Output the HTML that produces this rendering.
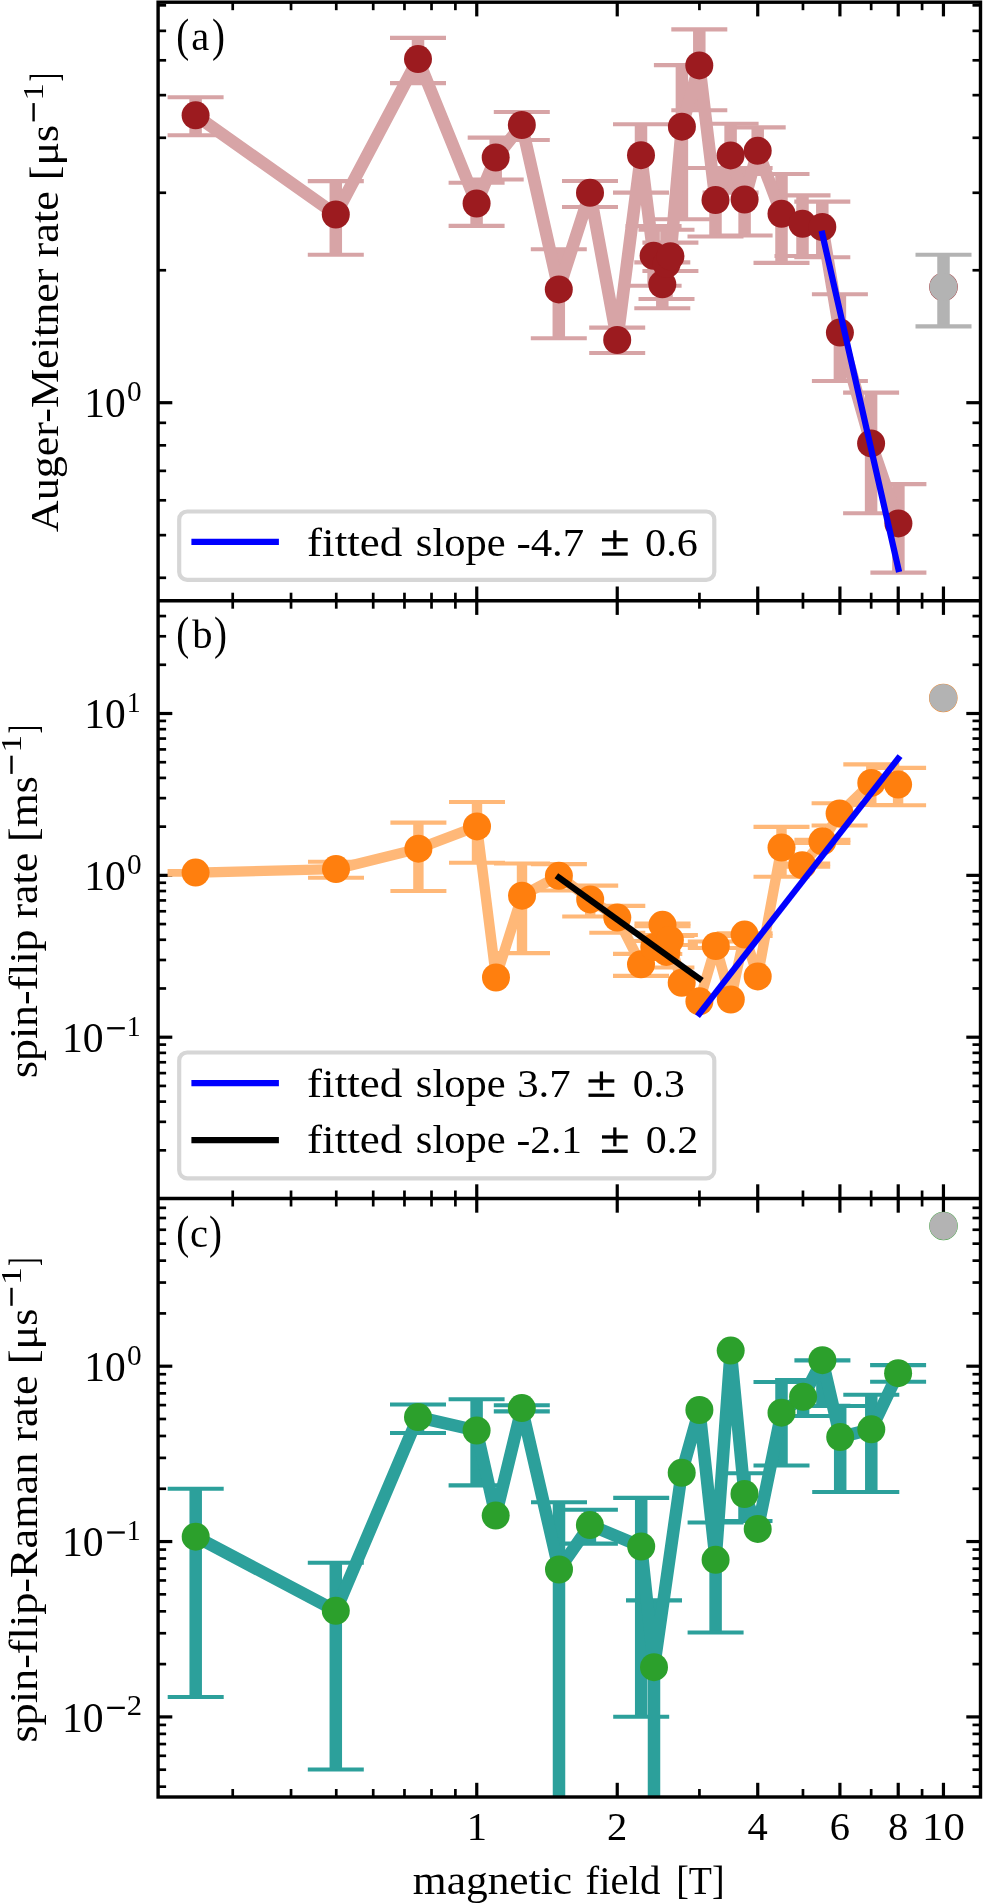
<!DOCTYPE html><html><head><meta charset="utf-8"><style>html,body{margin:0;padding:0;background:#fff;}svg{display:block;will-change:transform;}</style></head><body>
<svg width="983" height="1904" viewBox="0 0 983 1904" font-family="'Liberation Serif', serif">
<rect width="100%" height="100%" fill="#fff"/>
<defs>
<clipPath id="c0"><rect x="158.1" y="2.2" width="822.4" height="598.5"/></clipPath>
<clipPath id="c1"><rect x="158.1" y="600.7" width="822.4" height="597.8"/></clipPath>
<clipPath id="c2"><rect x="158.1" y="1198.5" width="822.4" height="598.5"/></clipPath>
</defs>
<line x1="476.75" y1="600.7" x2="476.75" y2="586.5" stroke="#000" stroke-width="3.2"/>
<line x1="476.75" y1="2.2" x2="476.75" y2="16.4" stroke="#000" stroke-width="3.2"/>
<line x1="617.24" y1="600.7" x2="617.24" y2="586.5" stroke="#000" stroke-width="3.2"/>
<line x1="617.24" y1="2.2" x2="617.24" y2="16.4" stroke="#000" stroke-width="3.2"/>
<line x1="757.73" y1="600.7" x2="757.73" y2="586.5" stroke="#000" stroke-width="3.2"/>
<line x1="757.73" y1="2.2" x2="757.73" y2="16.4" stroke="#000" stroke-width="3.2"/>
<line x1="839.91" y1="600.7" x2="839.91" y2="586.5" stroke="#000" stroke-width="3.2"/>
<line x1="839.91" y1="2.2" x2="839.91" y2="16.4" stroke="#000" stroke-width="3.2"/>
<line x1="898.22" y1="600.7" x2="898.22" y2="586.5" stroke="#000" stroke-width="3.2"/>
<line x1="898.22" y1="2.2" x2="898.22" y2="16.4" stroke="#000" stroke-width="3.2"/>
<line x1="943.45" y1="600.7" x2="943.45" y2="586.5" stroke="#000" stroke-width="3.2"/>
<line x1="943.45" y1="2.2" x2="943.45" y2="16.4" stroke="#000" stroke-width="3.2"/>
<line x1="232.72" y1="600.7" x2="232.72" y2="592.7" stroke="#000" stroke-width="2.7"/>
<line x1="232.72" y1="2.2" x2="232.72" y2="10.2" stroke="#000" stroke-width="2.7"/>
<line x1="291.03" y1="600.7" x2="291.03" y2="592.7" stroke="#000" stroke-width="2.7"/>
<line x1="291.03" y1="2.2" x2="291.03" y2="10.2" stroke="#000" stroke-width="2.7"/>
<line x1="336.26" y1="600.7" x2="336.26" y2="592.7" stroke="#000" stroke-width="2.7"/>
<line x1="336.26" y1="2.2" x2="336.26" y2="10.2" stroke="#000" stroke-width="2.7"/>
<line x1="373.21" y1="600.7" x2="373.21" y2="592.7" stroke="#000" stroke-width="2.7"/>
<line x1="373.21" y1="2.2" x2="373.21" y2="10.2" stroke="#000" stroke-width="2.7"/>
<line x1="404.46" y1="600.7" x2="404.46" y2="592.7" stroke="#000" stroke-width="2.7"/>
<line x1="404.46" y1="2.2" x2="404.46" y2="10.2" stroke="#000" stroke-width="2.7"/>
<line x1="431.52" y1="600.7" x2="431.52" y2="592.7" stroke="#000" stroke-width="2.7"/>
<line x1="431.52" y1="2.2" x2="431.52" y2="10.2" stroke="#000" stroke-width="2.7"/>
<line x1="455.39" y1="600.7" x2="455.39" y2="592.7" stroke="#000" stroke-width="2.7"/>
<line x1="455.39" y1="2.2" x2="455.39" y2="10.2" stroke="#000" stroke-width="2.7"/>
<line x1="699.42" y1="600.7" x2="699.42" y2="592.7" stroke="#000" stroke-width="2.7"/>
<line x1="699.42" y1="2.2" x2="699.42" y2="10.2" stroke="#000" stroke-width="2.7"/>
<line x1="802.96" y1="600.7" x2="802.96" y2="592.7" stroke="#000" stroke-width="2.7"/>
<line x1="802.96" y1="2.2" x2="802.96" y2="10.2" stroke="#000" stroke-width="2.7"/>
<line x1="871.16" y1="600.7" x2="871.16" y2="592.7" stroke="#000" stroke-width="2.7"/>
<line x1="871.16" y1="2.2" x2="871.16" y2="10.2" stroke="#000" stroke-width="2.7"/>
<line x1="922.09" y1="600.7" x2="922.09" y2="592.7" stroke="#000" stroke-width="2.7"/>
<line x1="922.09" y1="2.2" x2="922.09" y2="10.2" stroke="#000" stroke-width="2.7"/>
<line x1="158.1" y1="577.79" x2="166.1" y2="577.79" stroke="#000" stroke-width="2.7"/>
<line x1="980.5" y1="577.79" x2="972.5" y2="577.79" stroke="#000" stroke-width="2.7"/>
<line x1="158.1" y1="535.15" x2="166.1" y2="535.15" stroke="#000" stroke-width="2.7"/>
<line x1="980.5" y1="535.15" x2="972.5" y2="535.15" stroke="#000" stroke-width="2.7"/>
<line x1="158.1" y1="500.31" x2="166.1" y2="500.31" stroke="#000" stroke-width="2.7"/>
<line x1="980.5" y1="500.31" x2="972.5" y2="500.31" stroke="#000" stroke-width="2.7"/>
<line x1="158.1" y1="470.86" x2="166.1" y2="470.86" stroke="#000" stroke-width="2.7"/>
<line x1="980.5" y1="470.86" x2="972.5" y2="470.86" stroke="#000" stroke-width="2.7"/>
<line x1="158.1" y1="445.34" x2="166.1" y2="445.34" stroke="#000" stroke-width="2.7"/>
<line x1="980.5" y1="445.34" x2="972.5" y2="445.34" stroke="#000" stroke-width="2.7"/>
<line x1="158.1" y1="422.83" x2="166.1" y2="422.83" stroke="#000" stroke-width="2.7"/>
<line x1="980.5" y1="422.83" x2="972.5" y2="422.83" stroke="#000" stroke-width="2.7"/>
<line x1="158.1" y1="402.70" x2="172.29999999999998" y2="402.70" stroke="#000" stroke-width="3.2"/>
<line x1="980.5" y1="402.70" x2="966.3" y2="402.70" stroke="#000" stroke-width="3.2"/>
<line x1="158.1" y1="270.25" x2="166.1" y2="270.25" stroke="#000" stroke-width="2.7"/>
<line x1="980.5" y1="270.25" x2="972.5" y2="270.25" stroke="#000" stroke-width="2.7"/>
<line x1="158.1" y1="192.77" x2="166.1" y2="192.77" stroke="#000" stroke-width="2.7"/>
<line x1="980.5" y1="192.77" x2="972.5" y2="192.77" stroke="#000" stroke-width="2.7"/>
<line x1="158.1" y1="137.79" x2="166.1" y2="137.79" stroke="#000" stroke-width="2.7"/>
<line x1="980.5" y1="137.79" x2="972.5" y2="137.79" stroke="#000" stroke-width="2.7"/>
<line x1="158.1" y1="95.15" x2="166.1" y2="95.15" stroke="#000" stroke-width="2.7"/>
<line x1="980.5" y1="95.15" x2="972.5" y2="95.15" stroke="#000" stroke-width="2.7"/>
<line x1="158.1" y1="60.31" x2="166.1" y2="60.31" stroke="#000" stroke-width="2.7"/>
<line x1="980.5" y1="60.31" x2="972.5" y2="60.31" stroke="#000" stroke-width="2.7"/>
<line x1="158.1" y1="30.86" x2="166.1" y2="30.86" stroke="#000" stroke-width="2.7"/>
<line x1="980.5" y1="30.86" x2="972.5" y2="30.86" stroke="#000" stroke-width="2.7"/>
<line x1="158.1" y1="5.34" x2="166.1" y2="5.34" stroke="#000" stroke-width="2.7"/>
<line x1="980.5" y1="5.34" x2="972.5" y2="5.34" stroke="#000" stroke-width="2.7"/>
<line x1="476.75" y1="1198.5" x2="476.75" y2="1184.3" stroke="#000" stroke-width="3.2"/>
<line x1="476.75" y1="600.7" x2="476.75" y2="614.9000000000001" stroke="#000" stroke-width="3.2"/>
<line x1="617.24" y1="1198.5" x2="617.24" y2="1184.3" stroke="#000" stroke-width="3.2"/>
<line x1="617.24" y1="600.7" x2="617.24" y2="614.9000000000001" stroke="#000" stroke-width="3.2"/>
<line x1="757.73" y1="1198.5" x2="757.73" y2="1184.3" stroke="#000" stroke-width="3.2"/>
<line x1="757.73" y1="600.7" x2="757.73" y2="614.9000000000001" stroke="#000" stroke-width="3.2"/>
<line x1="839.91" y1="1198.5" x2="839.91" y2="1184.3" stroke="#000" stroke-width="3.2"/>
<line x1="839.91" y1="600.7" x2="839.91" y2="614.9000000000001" stroke="#000" stroke-width="3.2"/>
<line x1="898.22" y1="1198.5" x2="898.22" y2="1184.3" stroke="#000" stroke-width="3.2"/>
<line x1="898.22" y1="600.7" x2="898.22" y2="614.9000000000001" stroke="#000" stroke-width="3.2"/>
<line x1="943.45" y1="1198.5" x2="943.45" y2="1184.3" stroke="#000" stroke-width="3.2"/>
<line x1="943.45" y1="600.7" x2="943.45" y2="614.9000000000001" stroke="#000" stroke-width="3.2"/>
<line x1="232.72" y1="1198.5" x2="232.72" y2="1190.5" stroke="#000" stroke-width="2.7"/>
<line x1="232.72" y1="600.7" x2="232.72" y2="608.7" stroke="#000" stroke-width="2.7"/>
<line x1="291.03" y1="1198.5" x2="291.03" y2="1190.5" stroke="#000" stroke-width="2.7"/>
<line x1="291.03" y1="600.7" x2="291.03" y2="608.7" stroke="#000" stroke-width="2.7"/>
<line x1="336.26" y1="1198.5" x2="336.26" y2="1190.5" stroke="#000" stroke-width="2.7"/>
<line x1="336.26" y1="600.7" x2="336.26" y2="608.7" stroke="#000" stroke-width="2.7"/>
<line x1="373.21" y1="1198.5" x2="373.21" y2="1190.5" stroke="#000" stroke-width="2.7"/>
<line x1="373.21" y1="600.7" x2="373.21" y2="608.7" stroke="#000" stroke-width="2.7"/>
<line x1="404.46" y1="1198.5" x2="404.46" y2="1190.5" stroke="#000" stroke-width="2.7"/>
<line x1="404.46" y1="600.7" x2="404.46" y2="608.7" stroke="#000" stroke-width="2.7"/>
<line x1="431.52" y1="1198.5" x2="431.52" y2="1190.5" stroke="#000" stroke-width="2.7"/>
<line x1="431.52" y1="600.7" x2="431.52" y2="608.7" stroke="#000" stroke-width="2.7"/>
<line x1="455.39" y1="1198.5" x2="455.39" y2="1190.5" stroke="#000" stroke-width="2.7"/>
<line x1="455.39" y1="600.7" x2="455.39" y2="608.7" stroke="#000" stroke-width="2.7"/>
<line x1="699.42" y1="1198.5" x2="699.42" y2="1190.5" stroke="#000" stroke-width="2.7"/>
<line x1="699.42" y1="600.7" x2="699.42" y2="608.7" stroke="#000" stroke-width="2.7"/>
<line x1="802.96" y1="1198.5" x2="802.96" y2="1190.5" stroke="#000" stroke-width="2.7"/>
<line x1="802.96" y1="600.7" x2="802.96" y2="608.7" stroke="#000" stroke-width="2.7"/>
<line x1="871.16" y1="1198.5" x2="871.16" y2="1190.5" stroke="#000" stroke-width="2.7"/>
<line x1="871.16" y1="600.7" x2="871.16" y2="608.7" stroke="#000" stroke-width="2.7"/>
<line x1="922.09" y1="1198.5" x2="922.09" y2="1190.5" stroke="#000" stroke-width="2.7"/>
<line x1="922.09" y1="600.7" x2="922.09" y2="608.7" stroke="#000" stroke-width="2.7"/>
<line x1="158.1" y1="1150.33" x2="166.1" y2="1150.33" stroke="#000" stroke-width="2.7"/>
<line x1="980.5" y1="1150.33" x2="972.5" y2="1150.33" stroke="#000" stroke-width="2.7"/>
<line x1="158.1" y1="1121.83" x2="166.1" y2="1121.83" stroke="#000" stroke-width="2.7"/>
<line x1="980.5" y1="1121.83" x2="972.5" y2="1121.83" stroke="#000" stroke-width="2.7"/>
<line x1="158.1" y1="1101.61" x2="166.1" y2="1101.61" stroke="#000" stroke-width="2.7"/>
<line x1="980.5" y1="1101.61" x2="972.5" y2="1101.61" stroke="#000" stroke-width="2.7"/>
<line x1="158.1" y1="1085.92" x2="166.1" y2="1085.92" stroke="#000" stroke-width="2.7"/>
<line x1="980.5" y1="1085.92" x2="972.5" y2="1085.92" stroke="#000" stroke-width="2.7"/>
<line x1="158.1" y1="1073.11" x2="166.1" y2="1073.11" stroke="#000" stroke-width="2.7"/>
<line x1="980.5" y1="1073.11" x2="972.5" y2="1073.11" stroke="#000" stroke-width="2.7"/>
<line x1="158.1" y1="1062.27" x2="166.1" y2="1062.27" stroke="#000" stroke-width="2.7"/>
<line x1="980.5" y1="1062.27" x2="972.5" y2="1062.27" stroke="#000" stroke-width="2.7"/>
<line x1="158.1" y1="1052.88" x2="166.1" y2="1052.88" stroke="#000" stroke-width="2.7"/>
<line x1="980.5" y1="1052.88" x2="972.5" y2="1052.88" stroke="#000" stroke-width="2.7"/>
<line x1="158.1" y1="1044.61" x2="166.1" y2="1044.61" stroke="#000" stroke-width="2.7"/>
<line x1="980.5" y1="1044.61" x2="972.5" y2="1044.61" stroke="#000" stroke-width="2.7"/>
<line x1="158.1" y1="1037.20" x2="172.29999999999998" y2="1037.20" stroke="#000" stroke-width="3.2"/>
<line x1="980.5" y1="1037.20" x2="966.3" y2="1037.20" stroke="#000" stroke-width="3.2"/>
<line x1="158.1" y1="988.48" x2="166.1" y2="988.48" stroke="#000" stroke-width="2.7"/>
<line x1="980.5" y1="988.48" x2="972.5" y2="988.48" stroke="#000" stroke-width="2.7"/>
<line x1="158.1" y1="959.98" x2="166.1" y2="959.98" stroke="#000" stroke-width="2.7"/>
<line x1="980.5" y1="959.98" x2="972.5" y2="959.98" stroke="#000" stroke-width="2.7"/>
<line x1="158.1" y1="939.76" x2="166.1" y2="939.76" stroke="#000" stroke-width="2.7"/>
<line x1="980.5" y1="939.76" x2="972.5" y2="939.76" stroke="#000" stroke-width="2.7"/>
<line x1="158.1" y1="924.07" x2="166.1" y2="924.07" stroke="#000" stroke-width="2.7"/>
<line x1="980.5" y1="924.07" x2="972.5" y2="924.07" stroke="#000" stroke-width="2.7"/>
<line x1="158.1" y1="911.26" x2="166.1" y2="911.26" stroke="#000" stroke-width="2.7"/>
<line x1="980.5" y1="911.26" x2="972.5" y2="911.26" stroke="#000" stroke-width="2.7"/>
<line x1="158.1" y1="900.42" x2="166.1" y2="900.42" stroke="#000" stroke-width="2.7"/>
<line x1="980.5" y1="900.42" x2="972.5" y2="900.42" stroke="#000" stroke-width="2.7"/>
<line x1="158.1" y1="891.03" x2="166.1" y2="891.03" stroke="#000" stroke-width="2.7"/>
<line x1="980.5" y1="891.03" x2="972.5" y2="891.03" stroke="#000" stroke-width="2.7"/>
<line x1="158.1" y1="882.76" x2="166.1" y2="882.76" stroke="#000" stroke-width="2.7"/>
<line x1="980.5" y1="882.76" x2="972.5" y2="882.76" stroke="#000" stroke-width="2.7"/>
<line x1="158.1" y1="875.35" x2="172.29999999999998" y2="875.35" stroke="#000" stroke-width="3.2"/>
<line x1="980.5" y1="875.35" x2="966.3" y2="875.35" stroke="#000" stroke-width="3.2"/>
<line x1="158.1" y1="826.63" x2="166.1" y2="826.63" stroke="#000" stroke-width="2.7"/>
<line x1="980.5" y1="826.63" x2="972.5" y2="826.63" stroke="#000" stroke-width="2.7"/>
<line x1="158.1" y1="798.13" x2="166.1" y2="798.13" stroke="#000" stroke-width="2.7"/>
<line x1="980.5" y1="798.13" x2="972.5" y2="798.13" stroke="#000" stroke-width="2.7"/>
<line x1="158.1" y1="777.91" x2="166.1" y2="777.91" stroke="#000" stroke-width="2.7"/>
<line x1="980.5" y1="777.91" x2="972.5" y2="777.91" stroke="#000" stroke-width="2.7"/>
<line x1="158.1" y1="762.22" x2="166.1" y2="762.22" stroke="#000" stroke-width="2.7"/>
<line x1="980.5" y1="762.22" x2="972.5" y2="762.22" stroke="#000" stroke-width="2.7"/>
<line x1="158.1" y1="749.41" x2="166.1" y2="749.41" stroke="#000" stroke-width="2.7"/>
<line x1="980.5" y1="749.41" x2="972.5" y2="749.41" stroke="#000" stroke-width="2.7"/>
<line x1="158.1" y1="738.57" x2="166.1" y2="738.57" stroke="#000" stroke-width="2.7"/>
<line x1="980.5" y1="738.57" x2="972.5" y2="738.57" stroke="#000" stroke-width="2.7"/>
<line x1="158.1" y1="729.18" x2="166.1" y2="729.18" stroke="#000" stroke-width="2.7"/>
<line x1="980.5" y1="729.18" x2="972.5" y2="729.18" stroke="#000" stroke-width="2.7"/>
<line x1="158.1" y1="720.91" x2="166.1" y2="720.91" stroke="#000" stroke-width="2.7"/>
<line x1="980.5" y1="720.91" x2="972.5" y2="720.91" stroke="#000" stroke-width="2.7"/>
<line x1="158.1" y1="713.50" x2="172.29999999999998" y2="713.50" stroke="#000" stroke-width="3.2"/>
<line x1="980.5" y1="713.50" x2="966.3" y2="713.50" stroke="#000" stroke-width="3.2"/>
<line x1="158.1" y1="664.78" x2="166.1" y2="664.78" stroke="#000" stroke-width="2.7"/>
<line x1="980.5" y1="664.78" x2="972.5" y2="664.78" stroke="#000" stroke-width="2.7"/>
<line x1="158.1" y1="636.28" x2="166.1" y2="636.28" stroke="#000" stroke-width="2.7"/>
<line x1="980.5" y1="636.28" x2="972.5" y2="636.28" stroke="#000" stroke-width="2.7"/>
<line x1="158.1" y1="616.06" x2="166.1" y2="616.06" stroke="#000" stroke-width="2.7"/>
<line x1="980.5" y1="616.06" x2="972.5" y2="616.06" stroke="#000" stroke-width="2.7"/>
<line x1="476.75" y1="1797.0" x2="476.75" y2="1782.8" stroke="#000" stroke-width="3.2"/>
<line x1="476.75" y1="1198.5" x2="476.75" y2="1212.7" stroke="#000" stroke-width="3.2"/>
<line x1="617.24" y1="1797.0" x2="617.24" y2="1782.8" stroke="#000" stroke-width="3.2"/>
<line x1="617.24" y1="1198.5" x2="617.24" y2="1212.7" stroke="#000" stroke-width="3.2"/>
<line x1="757.73" y1="1797.0" x2="757.73" y2="1782.8" stroke="#000" stroke-width="3.2"/>
<line x1="757.73" y1="1198.5" x2="757.73" y2="1212.7" stroke="#000" stroke-width="3.2"/>
<line x1="839.91" y1="1797.0" x2="839.91" y2="1782.8" stroke="#000" stroke-width="3.2"/>
<line x1="839.91" y1="1198.5" x2="839.91" y2="1212.7" stroke="#000" stroke-width="3.2"/>
<line x1="898.22" y1="1797.0" x2="898.22" y2="1782.8" stroke="#000" stroke-width="3.2"/>
<line x1="898.22" y1="1198.5" x2="898.22" y2="1212.7" stroke="#000" stroke-width="3.2"/>
<line x1="943.45" y1="1797.0" x2="943.45" y2="1782.8" stroke="#000" stroke-width="3.2"/>
<line x1="943.45" y1="1198.5" x2="943.45" y2="1212.7" stroke="#000" stroke-width="3.2"/>
<line x1="232.72" y1="1797.0" x2="232.72" y2="1789.0" stroke="#000" stroke-width="2.7"/>
<line x1="232.72" y1="1198.5" x2="232.72" y2="1206.5" stroke="#000" stroke-width="2.7"/>
<line x1="291.03" y1="1797.0" x2="291.03" y2="1789.0" stroke="#000" stroke-width="2.7"/>
<line x1="291.03" y1="1198.5" x2="291.03" y2="1206.5" stroke="#000" stroke-width="2.7"/>
<line x1="336.26" y1="1797.0" x2="336.26" y2="1789.0" stroke="#000" stroke-width="2.7"/>
<line x1="336.26" y1="1198.5" x2="336.26" y2="1206.5" stroke="#000" stroke-width="2.7"/>
<line x1="373.21" y1="1797.0" x2="373.21" y2="1789.0" stroke="#000" stroke-width="2.7"/>
<line x1="373.21" y1="1198.5" x2="373.21" y2="1206.5" stroke="#000" stroke-width="2.7"/>
<line x1="404.46" y1="1797.0" x2="404.46" y2="1789.0" stroke="#000" stroke-width="2.7"/>
<line x1="404.46" y1="1198.5" x2="404.46" y2="1206.5" stroke="#000" stroke-width="2.7"/>
<line x1="431.52" y1="1797.0" x2="431.52" y2="1789.0" stroke="#000" stroke-width="2.7"/>
<line x1="431.52" y1="1198.5" x2="431.52" y2="1206.5" stroke="#000" stroke-width="2.7"/>
<line x1="455.39" y1="1797.0" x2="455.39" y2="1789.0" stroke="#000" stroke-width="2.7"/>
<line x1="455.39" y1="1198.5" x2="455.39" y2="1206.5" stroke="#000" stroke-width="2.7"/>
<line x1="699.42" y1="1797.0" x2="699.42" y2="1789.0" stroke="#000" stroke-width="2.7"/>
<line x1="699.42" y1="1198.5" x2="699.42" y2="1206.5" stroke="#000" stroke-width="2.7"/>
<line x1="802.96" y1="1797.0" x2="802.96" y2="1789.0" stroke="#000" stroke-width="2.7"/>
<line x1="802.96" y1="1198.5" x2="802.96" y2="1206.5" stroke="#000" stroke-width="2.7"/>
<line x1="871.16" y1="1797.0" x2="871.16" y2="1789.0" stroke="#000" stroke-width="2.7"/>
<line x1="871.16" y1="1198.5" x2="871.16" y2="1206.5" stroke="#000" stroke-width="2.7"/>
<line x1="922.09" y1="1797.0" x2="922.09" y2="1789.0" stroke="#000" stroke-width="2.7"/>
<line x1="922.09" y1="1198.5" x2="922.09" y2="1206.5" stroke="#000" stroke-width="2.7"/>
<line x1="158.1" y1="1786.68" x2="166.1" y2="1786.68" stroke="#000" stroke-width="2.7"/>
<line x1="980.5" y1="1786.68" x2="972.5" y2="1786.68" stroke="#000" stroke-width="2.7"/>
<line x1="158.1" y1="1769.69" x2="166.1" y2="1769.69" stroke="#000" stroke-width="2.7"/>
<line x1="980.5" y1="1769.69" x2="972.5" y2="1769.69" stroke="#000" stroke-width="2.7"/>
<line x1="158.1" y1="1755.80" x2="166.1" y2="1755.80" stroke="#000" stroke-width="2.7"/>
<line x1="980.5" y1="1755.80" x2="972.5" y2="1755.80" stroke="#000" stroke-width="2.7"/>
<line x1="158.1" y1="1744.06" x2="166.1" y2="1744.06" stroke="#000" stroke-width="2.7"/>
<line x1="980.5" y1="1744.06" x2="972.5" y2="1744.06" stroke="#000" stroke-width="2.7"/>
<line x1="158.1" y1="1733.89" x2="166.1" y2="1733.89" stroke="#000" stroke-width="2.7"/>
<line x1="980.5" y1="1733.89" x2="972.5" y2="1733.89" stroke="#000" stroke-width="2.7"/>
<line x1="158.1" y1="1724.92" x2="166.1" y2="1724.92" stroke="#000" stroke-width="2.7"/>
<line x1="980.5" y1="1724.92" x2="972.5" y2="1724.92" stroke="#000" stroke-width="2.7"/>
<line x1="158.1" y1="1716.90" x2="172.29999999999998" y2="1716.90" stroke="#000" stroke-width="3.2"/>
<line x1="980.5" y1="1716.90" x2="966.3" y2="1716.90" stroke="#000" stroke-width="3.2"/>
<line x1="158.1" y1="1664.11" x2="166.1" y2="1664.11" stroke="#000" stroke-width="2.7"/>
<line x1="980.5" y1="1664.11" x2="972.5" y2="1664.11" stroke="#000" stroke-width="2.7"/>
<line x1="158.1" y1="1633.24" x2="166.1" y2="1633.24" stroke="#000" stroke-width="2.7"/>
<line x1="980.5" y1="1633.24" x2="972.5" y2="1633.24" stroke="#000" stroke-width="2.7"/>
<line x1="158.1" y1="1611.33" x2="166.1" y2="1611.33" stroke="#000" stroke-width="2.7"/>
<line x1="980.5" y1="1611.33" x2="972.5" y2="1611.33" stroke="#000" stroke-width="2.7"/>
<line x1="158.1" y1="1594.34" x2="166.1" y2="1594.34" stroke="#000" stroke-width="2.7"/>
<line x1="980.5" y1="1594.34" x2="972.5" y2="1594.34" stroke="#000" stroke-width="2.7"/>
<line x1="158.1" y1="1580.45" x2="166.1" y2="1580.45" stroke="#000" stroke-width="2.7"/>
<line x1="980.5" y1="1580.45" x2="972.5" y2="1580.45" stroke="#000" stroke-width="2.7"/>
<line x1="158.1" y1="1568.71" x2="166.1" y2="1568.71" stroke="#000" stroke-width="2.7"/>
<line x1="980.5" y1="1568.71" x2="972.5" y2="1568.71" stroke="#000" stroke-width="2.7"/>
<line x1="158.1" y1="1558.54" x2="166.1" y2="1558.54" stroke="#000" stroke-width="2.7"/>
<line x1="980.5" y1="1558.54" x2="972.5" y2="1558.54" stroke="#000" stroke-width="2.7"/>
<line x1="158.1" y1="1549.57" x2="166.1" y2="1549.57" stroke="#000" stroke-width="2.7"/>
<line x1="980.5" y1="1549.57" x2="972.5" y2="1549.57" stroke="#000" stroke-width="2.7"/>
<line x1="158.1" y1="1541.55" x2="172.29999999999998" y2="1541.55" stroke="#000" stroke-width="3.2"/>
<line x1="980.5" y1="1541.55" x2="966.3" y2="1541.55" stroke="#000" stroke-width="3.2"/>
<line x1="158.1" y1="1488.76" x2="166.1" y2="1488.76" stroke="#000" stroke-width="2.7"/>
<line x1="980.5" y1="1488.76" x2="972.5" y2="1488.76" stroke="#000" stroke-width="2.7"/>
<line x1="158.1" y1="1457.89" x2="166.1" y2="1457.89" stroke="#000" stroke-width="2.7"/>
<line x1="980.5" y1="1457.89" x2="972.5" y2="1457.89" stroke="#000" stroke-width="2.7"/>
<line x1="158.1" y1="1435.98" x2="166.1" y2="1435.98" stroke="#000" stroke-width="2.7"/>
<line x1="980.5" y1="1435.98" x2="972.5" y2="1435.98" stroke="#000" stroke-width="2.7"/>
<line x1="158.1" y1="1418.99" x2="166.1" y2="1418.99" stroke="#000" stroke-width="2.7"/>
<line x1="980.5" y1="1418.99" x2="972.5" y2="1418.99" stroke="#000" stroke-width="2.7"/>
<line x1="158.1" y1="1405.10" x2="166.1" y2="1405.10" stroke="#000" stroke-width="2.7"/>
<line x1="980.5" y1="1405.10" x2="972.5" y2="1405.10" stroke="#000" stroke-width="2.7"/>
<line x1="158.1" y1="1393.36" x2="166.1" y2="1393.36" stroke="#000" stroke-width="2.7"/>
<line x1="980.5" y1="1393.36" x2="972.5" y2="1393.36" stroke="#000" stroke-width="2.7"/>
<line x1="158.1" y1="1383.19" x2="166.1" y2="1383.19" stroke="#000" stroke-width="2.7"/>
<line x1="980.5" y1="1383.19" x2="972.5" y2="1383.19" stroke="#000" stroke-width="2.7"/>
<line x1="158.1" y1="1374.22" x2="166.1" y2="1374.22" stroke="#000" stroke-width="2.7"/>
<line x1="980.5" y1="1374.22" x2="972.5" y2="1374.22" stroke="#000" stroke-width="2.7"/>
<line x1="158.1" y1="1366.20" x2="172.29999999999998" y2="1366.20" stroke="#000" stroke-width="3.2"/>
<line x1="980.5" y1="1366.20" x2="966.3" y2="1366.20" stroke="#000" stroke-width="3.2"/>
<line x1="158.1" y1="1313.41" x2="166.1" y2="1313.41" stroke="#000" stroke-width="2.7"/>
<line x1="980.5" y1="1313.41" x2="972.5" y2="1313.41" stroke="#000" stroke-width="2.7"/>
<line x1="158.1" y1="1282.54" x2="166.1" y2="1282.54" stroke="#000" stroke-width="2.7"/>
<line x1="980.5" y1="1282.54" x2="972.5" y2="1282.54" stroke="#000" stroke-width="2.7"/>
<line x1="158.1" y1="1260.63" x2="166.1" y2="1260.63" stroke="#000" stroke-width="2.7"/>
<line x1="980.5" y1="1260.63" x2="972.5" y2="1260.63" stroke="#000" stroke-width="2.7"/>
<line x1="158.1" y1="1243.64" x2="166.1" y2="1243.64" stroke="#000" stroke-width="2.7"/>
<line x1="980.5" y1="1243.64" x2="972.5" y2="1243.64" stroke="#000" stroke-width="2.7"/>
<line x1="158.1" y1="1229.75" x2="166.1" y2="1229.75" stroke="#000" stroke-width="2.7"/>
<line x1="980.5" y1="1229.75" x2="972.5" y2="1229.75" stroke="#000" stroke-width="2.7"/>
<line x1="158.1" y1="1218.01" x2="166.1" y2="1218.01" stroke="#000" stroke-width="2.7"/>
<line x1="980.5" y1="1218.01" x2="972.5" y2="1218.01" stroke="#000" stroke-width="2.7"/>
<line x1="158.1" y1="1207.84" x2="166.1" y2="1207.84" stroke="#000" stroke-width="2.7"/>
<line x1="980.5" y1="1207.84" x2="972.5" y2="1207.84" stroke="#000" stroke-width="2.7"/>
<g clip-path="url(#c0)">
<line x1="195.6" y1="97.3" x2="195.6" y2="135.2" stroke="#d7a4a6" stroke-width="12.5"/>
<line x1="335.8" y1="181.1" x2="335.8" y2="254.8" stroke="#d7a4a6" stroke-width="12.5"/>
<line x1="418.0" y1="37.9" x2="418.0" y2="83.1" stroke="#d7a4a6" stroke-width="12.5"/>
<line x1="476.6" y1="182.8" x2="476.6" y2="225.9" stroke="#d7a4a6" stroke-width="12.5"/>
<line x1="495.7" y1="137.6" x2="495.7" y2="179.5" stroke="#d7a4a6" stroke-width="12.5"/>
<line x1="521.8" y1="112.0" x2="521.8" y2="140.0" stroke="#d7a4a6" stroke-width="12.5"/>
<line x1="558.8" y1="249.2" x2="558.8" y2="338.2" stroke="#d7a4a6" stroke-width="12.5"/>
<line x1="590.0" y1="181.0" x2="590.0" y2="207.0" stroke="#d7a4a6" stroke-width="12.5"/>
<line x1="617.2" y1="327.6" x2="617.2" y2="353.0" stroke="#d7a4a6" stroke-width="12.5"/>
<line x1="641.0" y1="124.3" x2="641.0" y2="192.6" stroke="#d7a4a6" stroke-width="12.5"/>
<line x1="653.6" y1="226.0" x2="653.6" y2="285.8" stroke="#d7a4a6" stroke-width="12.5"/>
<line x1="662.3" y1="262.4" x2="662.3" y2="308.2" stroke="#d7a4a6" stroke-width="12.5"/>
<line x1="666.5" y1="229.8" x2="666.5" y2="299.0" stroke="#d7a4a6" stroke-width="12.5"/>
<line x1="670.4" y1="242.6" x2="670.4" y2="271.0" stroke="#d7a4a6" stroke-width="12.5"/>
<line x1="681.9" y1="65.1" x2="681.9" y2="219.2" stroke="#d7a4a6" stroke-width="12.5"/>
<line x1="699.3" y1="29.4" x2="699.3" y2="110.2" stroke="#d7a4a6" stroke-width="12.5"/>
<line x1="715.5" y1="168.0" x2="715.5" y2="236.5" stroke="#d7a4a6" stroke-width="12.5"/>
<line x1="730.6" y1="123.7" x2="730.6" y2="192.6" stroke="#d7a4a6" stroke-width="12.5"/>
<line x1="744.6" y1="168.0" x2="744.6" y2="235.5" stroke="#d7a4a6" stroke-width="12.5"/>
<line x1="757.7" y1="127.4" x2="757.7" y2="174.0" stroke="#d7a4a6" stroke-width="12.5"/>
<line x1="781.5" y1="174.0" x2="781.5" y2="262.9" stroke="#d7a4a6" stroke-width="12.5"/>
<line x1="802.5" y1="195.4" x2="802.5" y2="256.0" stroke="#d7a4a6" stroke-width="12.5"/>
<line x1="822.3" y1="201.6" x2="822.3" y2="257.2" stroke="#d7a4a6" stroke-width="12.5"/>
<line x1="839.9" y1="294.3" x2="839.9" y2="381.0" stroke="#d7a4a6" stroke-width="12.5"/>
<line x1="871.1" y1="392.6" x2="871.1" y2="513.2" stroke="#d7a4a6" stroke-width="12.5"/>
<line x1="898.4" y1="484.1" x2="898.4" y2="572.6" stroke="#d7a4a6" stroke-width="12.5"/>
<line x1="167.6" y1="97.3" x2="223.6" y2="97.3" stroke="#d7a4a6" stroke-width="4.1"/>
<line x1="167.6" y1="135.2" x2="223.6" y2="135.2" stroke="#d7a4a6" stroke-width="4.1"/>
<line x1="307.8" y1="181.1" x2="363.8" y2="181.1" stroke="#d7a4a6" stroke-width="4.1"/>
<line x1="307.8" y1="254.8" x2="363.8" y2="254.8" stroke="#d7a4a6" stroke-width="4.1"/>
<line x1="390.0" y1="37.9" x2="446.0" y2="37.9" stroke="#d7a4a6" stroke-width="4.1"/>
<line x1="390.0" y1="83.1" x2="446.0" y2="83.1" stroke="#d7a4a6" stroke-width="4.1"/>
<line x1="448.6" y1="182.8" x2="504.6" y2="182.8" stroke="#d7a4a6" stroke-width="4.1"/>
<line x1="448.6" y1="225.9" x2="504.6" y2="225.9" stroke="#d7a4a6" stroke-width="4.1"/>
<line x1="467.7" y1="137.6" x2="523.7" y2="137.6" stroke="#d7a4a6" stroke-width="4.1"/>
<line x1="467.7" y1="179.5" x2="523.7" y2="179.5" stroke="#d7a4a6" stroke-width="4.1"/>
<line x1="493.8" y1="112.0" x2="549.8" y2="112.0" stroke="#d7a4a6" stroke-width="4.1"/>
<line x1="493.8" y1="140.0" x2="549.8" y2="140.0" stroke="#d7a4a6" stroke-width="4.1"/>
<line x1="530.8" y1="249.2" x2="586.8" y2="249.2" stroke="#d7a4a6" stroke-width="4.1"/>
<line x1="530.8" y1="338.2" x2="586.8" y2="338.2" stroke="#d7a4a6" stroke-width="4.1"/>
<line x1="562.0" y1="181.0" x2="618.0" y2="181.0" stroke="#d7a4a6" stroke-width="4.1"/>
<line x1="562.0" y1="207.0" x2="618.0" y2="207.0" stroke="#d7a4a6" stroke-width="4.1"/>
<line x1="589.2" y1="327.6" x2="645.2" y2="327.6" stroke="#d7a4a6" stroke-width="4.1"/>
<line x1="589.2" y1="353.0" x2="645.2" y2="353.0" stroke="#d7a4a6" stroke-width="4.1"/>
<line x1="613.0" y1="124.3" x2="669.0" y2="124.3" stroke="#d7a4a6" stroke-width="4.1"/>
<line x1="613.0" y1="192.6" x2="669.0" y2="192.6" stroke="#d7a4a6" stroke-width="4.1"/>
<line x1="625.6" y1="226.0" x2="681.6" y2="226.0" stroke="#d7a4a6" stroke-width="4.1"/>
<line x1="625.6" y1="285.8" x2="681.6" y2="285.8" stroke="#d7a4a6" stroke-width="4.1"/>
<line x1="634.3" y1="262.4" x2="690.3" y2="262.4" stroke="#d7a4a6" stroke-width="4.1"/>
<line x1="634.3" y1="308.2" x2="690.3" y2="308.2" stroke="#d7a4a6" stroke-width="4.1"/>
<line x1="638.5" y1="229.8" x2="694.5" y2="229.8" stroke="#d7a4a6" stroke-width="4.1"/>
<line x1="638.5" y1="299.0" x2="694.5" y2="299.0" stroke="#d7a4a6" stroke-width="4.1"/>
<line x1="642.4" y1="242.6" x2="698.4" y2="242.6" stroke="#d7a4a6" stroke-width="4.1"/>
<line x1="642.4" y1="271.0" x2="698.4" y2="271.0" stroke="#d7a4a6" stroke-width="4.1"/>
<line x1="653.9" y1="65.1" x2="709.9" y2="65.1" stroke="#d7a4a6" stroke-width="4.1"/>
<line x1="653.9" y1="219.2" x2="709.9" y2="219.2" stroke="#d7a4a6" stroke-width="4.1"/>
<line x1="671.3" y1="29.4" x2="727.3" y2="29.4" stroke="#d7a4a6" stroke-width="4.1"/>
<line x1="671.3" y1="110.2" x2="727.3" y2="110.2" stroke="#d7a4a6" stroke-width="4.1"/>
<line x1="687.5" y1="168.0" x2="743.5" y2="168.0" stroke="#d7a4a6" stroke-width="4.1"/>
<line x1="687.5" y1="236.5" x2="743.5" y2="236.5" stroke="#d7a4a6" stroke-width="4.1"/>
<line x1="702.6" y1="123.7" x2="758.6" y2="123.7" stroke="#d7a4a6" stroke-width="4.1"/>
<line x1="702.6" y1="192.6" x2="758.6" y2="192.6" stroke="#d7a4a6" stroke-width="4.1"/>
<line x1="716.6" y1="168.0" x2="772.6" y2="168.0" stroke="#d7a4a6" stroke-width="4.1"/>
<line x1="716.6" y1="235.5" x2="772.6" y2="235.5" stroke="#d7a4a6" stroke-width="4.1"/>
<line x1="729.7" y1="127.4" x2="785.7" y2="127.4" stroke="#d7a4a6" stroke-width="4.1"/>
<line x1="729.7" y1="174.0" x2="785.7" y2="174.0" stroke="#d7a4a6" stroke-width="4.1"/>
<line x1="753.5" y1="174.0" x2="809.5" y2="174.0" stroke="#d7a4a6" stroke-width="4.1"/>
<line x1="753.5" y1="262.9" x2="809.5" y2="262.9" stroke="#d7a4a6" stroke-width="4.1"/>
<line x1="774.5" y1="195.4" x2="830.5" y2="195.4" stroke="#d7a4a6" stroke-width="4.1"/>
<line x1="774.5" y1="256.0" x2="830.5" y2="256.0" stroke="#d7a4a6" stroke-width="4.1"/>
<line x1="794.3" y1="201.6" x2="850.3" y2="201.6" stroke="#d7a4a6" stroke-width="4.1"/>
<line x1="794.3" y1="257.2" x2="850.3" y2="257.2" stroke="#d7a4a6" stroke-width="4.1"/>
<line x1="811.9" y1="294.3" x2="867.9" y2="294.3" stroke="#d7a4a6" stroke-width="4.1"/>
<line x1="811.9" y1="381.0" x2="867.9" y2="381.0" stroke="#d7a4a6" stroke-width="4.1"/>
<line x1="843.1" y1="392.6" x2="899.1" y2="392.6" stroke="#d7a4a6" stroke-width="4.1"/>
<line x1="843.1" y1="513.2" x2="899.1" y2="513.2" stroke="#d7a4a6" stroke-width="4.1"/>
<line x1="870.4" y1="484.1" x2="926.4" y2="484.1" stroke="#d7a4a6" stroke-width="4.1"/>
<line x1="870.4" y1="572.6" x2="926.4" y2="572.6" stroke="#d7a4a6" stroke-width="4.1"/>
<path d="M195.6,115.3 L335.8,214.5 L418.0,59.1 L476.6,203.5 L495.7,157.5 L521.8,125.0 L558.8,289.4 L590.0,192.8 L617.2,340.0 L641.0,155.2 L653.6,255.8 L662.3,284.3 L666.5,264.0 L670.4,256.3 L681.9,126.7 L699.3,65.4 L715.5,200.1 L730.6,155.4 L744.6,199.5 L757.7,150.8 L781.5,213.8 L802.5,223.8 L822.3,227.0 L839.9,332.6 L871.1,443.4 L898.4,523.4" fill="none" stroke="#d7a4a6" stroke-width="12.5" stroke-linejoin="round" stroke-linecap="square"/>
<circle cx="195.6" cy="115.3" r="14.0" fill="#9c1b1f"/>
<circle cx="335.8" cy="214.5" r="14.0" fill="#9c1b1f"/>
<circle cx="418.0" cy="59.1" r="14.0" fill="#9c1b1f"/>
<circle cx="476.6" cy="203.5" r="14.0" fill="#9c1b1f"/>
<circle cx="495.7" cy="157.5" r="14.0" fill="#9c1b1f"/>
<circle cx="521.8" cy="125.0" r="14.0" fill="#9c1b1f"/>
<circle cx="558.8" cy="289.4" r="14.0" fill="#9c1b1f"/>
<circle cx="590.0" cy="192.8" r="14.0" fill="#9c1b1f"/>
<circle cx="617.2" cy="340.0" r="14.0" fill="#9c1b1f"/>
<circle cx="641.0" cy="155.2" r="14.0" fill="#9c1b1f"/>
<circle cx="653.6" cy="255.8" r="14.0" fill="#9c1b1f"/>
<circle cx="662.3" cy="284.3" r="14.0" fill="#9c1b1f"/>
<circle cx="666.5" cy="264.0" r="14.0" fill="#9c1b1f"/>
<circle cx="670.4" cy="256.3" r="14.0" fill="#9c1b1f"/>
<circle cx="681.9" cy="126.7" r="14.0" fill="#9c1b1f"/>
<circle cx="699.3" cy="65.4" r="14.0" fill="#9c1b1f"/>
<circle cx="715.5" cy="200.1" r="14.0" fill="#9c1b1f"/>
<circle cx="730.6" cy="155.4" r="14.0" fill="#9c1b1f"/>
<circle cx="744.6" cy="199.5" r="14.0" fill="#9c1b1f"/>
<circle cx="757.7" cy="150.8" r="14.0" fill="#9c1b1f"/>
<circle cx="781.5" cy="213.8" r="14.0" fill="#9c1b1f"/>
<circle cx="802.5" cy="223.8" r="14.0" fill="#9c1b1f"/>
<circle cx="822.3" cy="227.0" r="14.0" fill="#9c1b1f"/>
<circle cx="839.9" cy="332.6" r="14.0" fill="#9c1b1f"/>
<circle cx="871.1" cy="443.4" r="14.0" fill="#9c1b1f"/>
<circle cx="898.4" cy="523.4" r="14.0" fill="#9c1b1f"/>
</g>
<g clip-path="url(#c0)">
<circle cx="943.5" cy="286.9" r="14.25" fill="#9c1b1f"/>
<line x1="943.5" y1="254.7" x2="943.5" y2="326.4" stroke="#b3b3b3" stroke-width="12.5"/>
<line x1="915.5" y1="254.7" x2="971.5" y2="254.7" stroke="#b3b3b3" stroke-width="4.1"/>
<line x1="915.5" y1="326.4" x2="971.5" y2="326.4" stroke="#b3b3b3" stroke-width="4.1"/>
<circle cx="943.5" cy="286.9" r="14.0" fill="#b3b3b3"/>
</g>
<g clip-path="url(#c0)"><line x1="822.3" y1="233.8" x2="898.4" y2="569.0" stroke="#0000ff" stroke-width="6.25" stroke-linecap="square"/></g>
<g clip-path="url(#c1)">
<line x1="195.6" y1="871.0" x2="195.6" y2="874.6" stroke="#ffb878" stroke-width="10.4"/>
<line x1="336.0" y1="861.8" x2="336.0" y2="877.7" stroke="#ffb878" stroke-width="10.4"/>
<line x1="418.4" y1="822.6" x2="418.4" y2="891.0" stroke="#ffb878" stroke-width="10.4"/>
<line x1="477.0" y1="802.0" x2="477.0" y2="862.8" stroke="#ffb878" stroke-width="10.4"/>
<line x1="522.0" y1="863.5" x2="522.0" y2="953.1" stroke="#ffb878" stroke-width="10.4"/>
<line x1="558.9" y1="864.1" x2="558.9" y2="890.5" stroke="#ffb878" stroke-width="10.4"/>
<line x1="590.2" y1="885.6" x2="590.2" y2="916.5" stroke="#ffb878" stroke-width="10.4"/>
<line x1="617.3" y1="905.9" x2="617.3" y2="932.8" stroke="#ffb878" stroke-width="10.4"/>
<line x1="641.0" y1="953.9" x2="641.0" y2="975.9" stroke="#ffb878" stroke-width="10.4"/>
<line x1="654.3" y1="941.0" x2="654.3" y2="954.0" stroke="#ffb878" stroke-width="10.4"/>
<line x1="662.5" y1="923.5" x2="662.5" y2="926.3" stroke="#ffb878" stroke-width="10.4"/>
<line x1="666.4" y1="936.0" x2="666.4" y2="967.5" stroke="#ffb878" stroke-width="10.4"/>
<line x1="669.9" y1="935.0" x2="669.9" y2="945.0" stroke="#ffb878" stroke-width="10.4"/>
<line x1="715.8" y1="941.5" x2="715.8" y2="948.0" stroke="#ffb878" stroke-width="10.4"/>
<line x1="744.6" y1="933.2" x2="744.6" y2="936.0" stroke="#ffb878" stroke-width="10.4"/>
<line x1="781.5" y1="826.9" x2="781.5" y2="876.7" stroke="#ffb878" stroke-width="10.4"/>
<line x1="802.2" y1="863.6" x2="802.2" y2="866.8" stroke="#ffb878" stroke-width="10.4"/>
<line x1="822.4" y1="839.7" x2="822.4" y2="842.9" stroke="#ffb878" stroke-width="10.4"/>
<line x1="839.6" y1="803.3" x2="839.6" y2="825.5" stroke="#ffb878" stroke-width="10.4"/>
<line x1="871.3" y1="764.4" x2="871.3" y2="805.0" stroke="#ffb878" stroke-width="10.4"/>
<line x1="898.1" y1="767.9" x2="898.1" y2="805.3" stroke="#ffb878" stroke-width="10.4"/>
<line x1="167.6" y1="871.0" x2="223.6" y2="871.0" stroke="#ffb878" stroke-width="4.1"/>
<line x1="167.6" y1="874.6" x2="223.6" y2="874.6" stroke="#ffb878" stroke-width="4.1"/>
<line x1="308.0" y1="861.8" x2="364.0" y2="861.8" stroke="#ffb878" stroke-width="4.1"/>
<line x1="308.0" y1="877.7" x2="364.0" y2="877.7" stroke="#ffb878" stroke-width="4.1"/>
<line x1="390.4" y1="822.6" x2="446.4" y2="822.6" stroke="#ffb878" stroke-width="4.1"/>
<line x1="390.4" y1="891.0" x2="446.4" y2="891.0" stroke="#ffb878" stroke-width="4.1"/>
<line x1="449.0" y1="802.0" x2="505.0" y2="802.0" stroke="#ffb878" stroke-width="4.1"/>
<line x1="449.0" y1="862.8" x2="505.0" y2="862.8" stroke="#ffb878" stroke-width="4.1"/>
<line x1="494.0" y1="863.5" x2="550.0" y2="863.5" stroke="#ffb878" stroke-width="4.1"/>
<line x1="494.0" y1="953.1" x2="550.0" y2="953.1" stroke="#ffb878" stroke-width="4.1"/>
<line x1="530.9" y1="864.1" x2="586.9" y2="864.1" stroke="#ffb878" stroke-width="4.1"/>
<line x1="530.9" y1="890.5" x2="586.9" y2="890.5" stroke="#ffb878" stroke-width="4.1"/>
<line x1="562.2" y1="885.6" x2="618.2" y2="885.6" stroke="#ffb878" stroke-width="4.1"/>
<line x1="562.2" y1="916.5" x2="618.2" y2="916.5" stroke="#ffb878" stroke-width="4.1"/>
<line x1="589.3" y1="905.9" x2="645.3" y2="905.9" stroke="#ffb878" stroke-width="4.1"/>
<line x1="589.3" y1="932.8" x2="645.3" y2="932.8" stroke="#ffb878" stroke-width="4.1"/>
<line x1="613.0" y1="953.9" x2="669.0" y2="953.9" stroke="#ffb878" stroke-width="4.1"/>
<line x1="613.0" y1="975.9" x2="669.0" y2="975.9" stroke="#ffb878" stroke-width="4.1"/>
<line x1="626.3" y1="941.0" x2="682.3" y2="941.0" stroke="#ffb878" stroke-width="4.1"/>
<line x1="626.3" y1="954.0" x2="682.3" y2="954.0" stroke="#ffb878" stroke-width="4.1"/>
<line x1="634.5" y1="923.5" x2="690.5" y2="923.5" stroke="#ffb878" stroke-width="4.1"/>
<line x1="634.5" y1="926.3" x2="690.5" y2="926.3" stroke="#ffb878" stroke-width="4.1"/>
<line x1="638.4" y1="936.0" x2="694.4" y2="936.0" stroke="#ffb878" stroke-width="4.1"/>
<line x1="638.4" y1="967.5" x2="694.4" y2="967.5" stroke="#ffb878" stroke-width="4.1"/>
<line x1="641.9" y1="935.0" x2="697.9" y2="935.0" stroke="#ffb878" stroke-width="4.1"/>
<line x1="641.9" y1="945.0" x2="697.9" y2="945.0" stroke="#ffb878" stroke-width="4.1"/>
<line x1="687.8" y1="941.5" x2="743.8" y2="941.5" stroke="#ffb878" stroke-width="4.1"/>
<line x1="687.8" y1="948.0" x2="743.8" y2="948.0" stroke="#ffb878" stroke-width="4.1"/>
<line x1="716.6" y1="933.2" x2="772.6" y2="933.2" stroke="#ffb878" stroke-width="4.1"/>
<line x1="716.6" y1="936.0" x2="772.6" y2="936.0" stroke="#ffb878" stroke-width="4.1"/>
<line x1="753.5" y1="826.9" x2="809.5" y2="826.9" stroke="#ffb878" stroke-width="4.1"/>
<line x1="753.5" y1="876.7" x2="809.5" y2="876.7" stroke="#ffb878" stroke-width="4.1"/>
<line x1="774.2" y1="863.6" x2="830.2" y2="863.6" stroke="#ffb878" stroke-width="4.1"/>
<line x1="774.2" y1="866.8" x2="830.2" y2="866.8" stroke="#ffb878" stroke-width="4.1"/>
<line x1="794.4" y1="839.7" x2="850.4" y2="839.7" stroke="#ffb878" stroke-width="4.1"/>
<line x1="794.4" y1="842.9" x2="850.4" y2="842.9" stroke="#ffb878" stroke-width="4.1"/>
<line x1="811.6" y1="803.3" x2="867.6" y2="803.3" stroke="#ffb878" stroke-width="4.1"/>
<line x1="811.6" y1="825.5" x2="867.6" y2="825.5" stroke="#ffb878" stroke-width="4.1"/>
<line x1="843.3" y1="764.4" x2="899.3" y2="764.4" stroke="#ffb878" stroke-width="4.1"/>
<line x1="843.3" y1="805.0" x2="899.3" y2="805.0" stroke="#ffb878" stroke-width="4.1"/>
<line x1="870.1" y1="767.9" x2="926.1" y2="767.9" stroke="#ffb878" stroke-width="4.1"/>
<line x1="870.1" y1="805.3" x2="926.1" y2="805.3" stroke="#ffb878" stroke-width="4.1"/>
<path d="M195.6,872.6 L336.0,869.1 L418.4,848.7 L477.0,826.4 L496.0,977.5 L522.0,895.7 L558.9,875.8 L590.2,899.4 L617.3,917.6 L641.0,964.3 L654.3,947.0 L662.5,924.8 L666.4,951.9 L669.9,940.0 L681.7,982.8 L699.4,1001.3 L715.8,946.0 L730.8,999.5 L744.6,934.6 L757.7,976.4 L781.5,847.6 L802.2,865.2 L822.4,841.3 L839.6,813.4 L871.3,782.9 L898.1,784.6" fill="none" stroke="#ffb878" stroke-width="10.4" stroke-linejoin="round" stroke-linecap="square"/>
<circle cx="195.6" cy="872.6" r="14.0" fill="#ff7f0e"/>
<circle cx="336.0" cy="869.1" r="14.0" fill="#ff7f0e"/>
<circle cx="418.4" cy="848.7" r="14.0" fill="#ff7f0e"/>
<circle cx="477.0" cy="826.4" r="14.0" fill="#ff7f0e"/>
<circle cx="496.0" cy="977.5" r="14.0" fill="#ff7f0e"/>
<circle cx="522.0" cy="895.7" r="14.0" fill="#ff7f0e"/>
<circle cx="558.9" cy="875.8" r="14.0" fill="#ff7f0e"/>
<circle cx="590.2" cy="899.4" r="14.0" fill="#ff7f0e"/>
<circle cx="617.3" cy="917.6" r="14.0" fill="#ff7f0e"/>
<circle cx="641.0" cy="964.3" r="14.0" fill="#ff7f0e"/>
<circle cx="654.3" cy="947.0" r="14.0" fill="#ff7f0e"/>
<circle cx="662.5" cy="924.8" r="14.0" fill="#ff7f0e"/>
<circle cx="666.4" cy="951.9" r="14.0" fill="#ff7f0e"/>
<circle cx="669.9" cy="940.0" r="14.0" fill="#ff7f0e"/>
<circle cx="681.7" cy="982.8" r="14.0" fill="#ff7f0e"/>
<circle cx="699.4" cy="1001.3" r="14.0" fill="#ff7f0e"/>
<circle cx="715.8" cy="946.0" r="14.0" fill="#ff7f0e"/>
<circle cx="730.8" cy="999.5" r="14.0" fill="#ff7f0e"/>
<circle cx="744.6" cy="934.6" r="14.0" fill="#ff7f0e"/>
<circle cx="757.7" cy="976.4" r="14.0" fill="#ff7f0e"/>
<circle cx="781.5" cy="847.6" r="14.0" fill="#ff7f0e"/>
<circle cx="802.2" cy="865.2" r="14.0" fill="#ff7f0e"/>
<circle cx="822.4" cy="841.3" r="14.0" fill="#ff7f0e"/>
<circle cx="839.6" cy="813.4" r="14.0" fill="#ff7f0e"/>
<circle cx="871.3" cy="782.9" r="14.0" fill="#ff7f0e"/>
<circle cx="898.1" cy="784.6" r="14.0" fill="#ff7f0e"/>
</g>
<g clip-path="url(#c1)">
<circle cx="943.3" cy="697.9" r="14.25" fill="#ff7f0e"/>
<circle cx="943.3" cy="697.9" r="14.0" fill="#b3b3b3"/>
</g>
<g clip-path="url(#c1)"><line x1="558.9" y1="877.6" x2="699.4" y2="978.6" stroke="#000" stroke-width="6.25" stroke-linecap="square"/>
<line x1="699.4" y1="1013.6" x2="898.1" y2="758.6" stroke="#0000ff" stroke-width="6.25" stroke-linecap="square"/></g>
<g clip-path="url(#c2)">
<line x1="195.7" y1="1488.7" x2="195.7" y2="1697.0" stroke="#2ca09b" stroke-width="12.5"/>
<line x1="335.8" y1="1562.8" x2="335.8" y2="1769.5" stroke="#2ca09b" stroke-width="12.5"/>
<line x1="418.0" y1="1404.5" x2="418.0" y2="1433.0" stroke="#2ca09b" stroke-width="12.5"/>
<line x1="476.6" y1="1399.2" x2="476.6" y2="1485.4" stroke="#2ca09b" stroke-width="12.5"/>
<line x1="521.8" y1="1405.3" x2="521.8" y2="1411.4" stroke="#2ca09b" stroke-width="12.5"/>
<line x1="559.0" y1="1502.3" x2="559.0" y2="1830.0" stroke="#2ca09b" stroke-width="12.5"/>
<line x1="589.9" y1="1509.8" x2="589.9" y2="1543.6" stroke="#2ca09b" stroke-width="12.5"/>
<line x1="641.2" y1="1497.9" x2="641.2" y2="1716.8" stroke="#2ca09b" stroke-width="12.5"/>
<line x1="654.0" y1="1600.4" x2="654.0" y2="1830.0" stroke="#2ca09b" stroke-width="12.5"/>
<line x1="715.6" y1="1522.5" x2="715.6" y2="1632.5" stroke="#2ca09b" stroke-width="12.5"/>
<line x1="744.5" y1="1473.3" x2="744.5" y2="1521.0" stroke="#2ca09b" stroke-width="12.5"/>
<line x1="781.5" y1="1382.0" x2="781.5" y2="1465.5" stroke="#2ca09b" stroke-width="12.5"/>
<line x1="803.1" y1="1380.0" x2="803.1" y2="1416.0" stroke="#2ca09b" stroke-width="12.5"/>
<line x1="822.4" y1="1360.4" x2="822.4" y2="1405.7" stroke="#2ca09b" stroke-width="12.5"/>
<line x1="840.2" y1="1406.0" x2="840.2" y2="1492.0" stroke="#2ca09b" stroke-width="12.5"/>
<line x1="871.3" y1="1394.8" x2="871.3" y2="1492.0" stroke="#2ca09b" stroke-width="12.5"/>
<line x1="898.1" y1="1365.1" x2="898.1" y2="1381.8" stroke="#2ca09b" stroke-width="12.5"/>
<line x1="167.7" y1="1488.7" x2="223.7" y2="1488.7" stroke="#2ca09b" stroke-width="4.1"/>
<line x1="167.7" y1="1697.0" x2="223.7" y2="1697.0" stroke="#2ca09b" stroke-width="4.1"/>
<line x1="307.8" y1="1562.8" x2="363.8" y2="1562.8" stroke="#2ca09b" stroke-width="4.1"/>
<line x1="307.8" y1="1769.5" x2="363.8" y2="1769.5" stroke="#2ca09b" stroke-width="4.1"/>
<line x1="390.0" y1="1404.5" x2="446.0" y2="1404.5" stroke="#2ca09b" stroke-width="4.1"/>
<line x1="390.0" y1="1433.0" x2="446.0" y2="1433.0" stroke="#2ca09b" stroke-width="4.1"/>
<line x1="448.6" y1="1399.2" x2="504.6" y2="1399.2" stroke="#2ca09b" stroke-width="4.1"/>
<line x1="448.6" y1="1485.4" x2="504.6" y2="1485.4" stroke="#2ca09b" stroke-width="4.1"/>
<line x1="493.8" y1="1405.3" x2="549.8" y2="1405.3" stroke="#2ca09b" stroke-width="4.1"/>
<line x1="493.8" y1="1411.4" x2="549.8" y2="1411.4" stroke="#2ca09b" stroke-width="4.1"/>
<line x1="531.0" y1="1502.3" x2="587.0" y2="1502.3" stroke="#2ca09b" stroke-width="4.1"/>
<line x1="531.0" y1="1830.0" x2="587.0" y2="1830.0" stroke="#2ca09b" stroke-width="4.1"/>
<line x1="561.9" y1="1509.8" x2="617.9" y2="1509.8" stroke="#2ca09b" stroke-width="4.1"/>
<line x1="561.9" y1="1543.6" x2="617.9" y2="1543.6" stroke="#2ca09b" stroke-width="4.1"/>
<line x1="613.2" y1="1497.9" x2="669.2" y2="1497.9" stroke="#2ca09b" stroke-width="4.1"/>
<line x1="613.2" y1="1716.8" x2="669.2" y2="1716.8" stroke="#2ca09b" stroke-width="4.1"/>
<line x1="626.0" y1="1600.4" x2="682.0" y2="1600.4" stroke="#2ca09b" stroke-width="4.1"/>
<line x1="626.0" y1="1830.0" x2="682.0" y2="1830.0" stroke="#2ca09b" stroke-width="4.1"/>
<line x1="687.6" y1="1522.5" x2="743.6" y2="1522.5" stroke="#2ca09b" stroke-width="4.1"/>
<line x1="687.6" y1="1632.5" x2="743.6" y2="1632.5" stroke="#2ca09b" stroke-width="4.1"/>
<line x1="716.5" y1="1473.3" x2="772.5" y2="1473.3" stroke="#2ca09b" stroke-width="4.1"/>
<line x1="716.5" y1="1521.0" x2="772.5" y2="1521.0" stroke="#2ca09b" stroke-width="4.1"/>
<line x1="753.5" y1="1382.0" x2="809.5" y2="1382.0" stroke="#2ca09b" stroke-width="4.1"/>
<line x1="753.5" y1="1465.5" x2="809.5" y2="1465.5" stroke="#2ca09b" stroke-width="4.1"/>
<line x1="775.1" y1="1380.0" x2="831.1" y2="1380.0" stroke="#2ca09b" stroke-width="4.1"/>
<line x1="775.1" y1="1416.0" x2="831.1" y2="1416.0" stroke="#2ca09b" stroke-width="4.1"/>
<line x1="794.4" y1="1360.4" x2="850.4" y2="1360.4" stroke="#2ca09b" stroke-width="4.1"/>
<line x1="794.4" y1="1405.7" x2="850.4" y2="1405.7" stroke="#2ca09b" stroke-width="4.1"/>
<line x1="812.2" y1="1406.0" x2="868.2" y2="1406.0" stroke="#2ca09b" stroke-width="4.1"/>
<line x1="812.2" y1="1492.0" x2="868.2" y2="1492.0" stroke="#2ca09b" stroke-width="4.1"/>
<line x1="843.3" y1="1394.8" x2="899.3" y2="1394.8" stroke="#2ca09b" stroke-width="4.1"/>
<line x1="843.3" y1="1492.0" x2="899.3" y2="1492.0" stroke="#2ca09b" stroke-width="4.1"/>
<line x1="870.1" y1="1365.1" x2="926.1" y2="1365.1" stroke="#2ca09b" stroke-width="4.1"/>
<line x1="870.1" y1="1381.8" x2="926.1" y2="1381.8" stroke="#2ca09b" stroke-width="4.1"/>
<path d="M195.7,1536.7 L335.8,1610.8 L418.0,1417.1 L476.6,1430.5 L495.7,1515.6 L521.8,1408.1 L559.0,1569.5 L589.9,1525.1 L641.2,1546.5 L654.0,1667.2 L681.7,1472.8 L699.4,1410.0 L715.6,1559.8 L730.7,1350.6 L744.5,1494.0 L757.7,1528.9 L781.5,1412.7 L803.1,1396.8 L822.4,1360.2 L840.2,1437.1 L871.3,1429.3 L898.1,1373.2" fill="none" stroke="#2ca09b" stroke-width="12.5" stroke-linejoin="round" stroke-linecap="square"/>
<circle cx="195.7" cy="1536.7" r="14.0" fill="#2ca02c"/>
<circle cx="335.8" cy="1610.8" r="14.0" fill="#2ca02c"/>
<circle cx="418.0" cy="1417.1" r="14.0" fill="#2ca02c"/>
<circle cx="476.6" cy="1430.5" r="14.0" fill="#2ca02c"/>
<circle cx="495.7" cy="1515.6" r="14.0" fill="#2ca02c"/>
<circle cx="521.8" cy="1408.1" r="14.0" fill="#2ca02c"/>
<circle cx="559.0" cy="1569.5" r="14.0" fill="#2ca02c"/>
<circle cx="589.9" cy="1525.1" r="14.0" fill="#2ca02c"/>
<circle cx="641.2" cy="1546.5" r="14.0" fill="#2ca02c"/>
<circle cx="654.0" cy="1667.2" r="14.0" fill="#2ca02c"/>
<circle cx="681.7" cy="1472.8" r="14.0" fill="#2ca02c"/>
<circle cx="699.4" cy="1410.0" r="14.0" fill="#2ca02c"/>
<circle cx="715.6" cy="1559.8" r="14.0" fill="#2ca02c"/>
<circle cx="730.7" cy="1350.6" r="14.0" fill="#2ca02c"/>
<circle cx="744.5" cy="1494.0" r="14.0" fill="#2ca02c"/>
<circle cx="757.7" cy="1528.9" r="14.0" fill="#2ca02c"/>
<circle cx="781.5" cy="1412.7" r="14.0" fill="#2ca02c"/>
<circle cx="803.1" cy="1396.8" r="14.0" fill="#2ca02c"/>
<circle cx="822.4" cy="1360.2" r="14.0" fill="#2ca02c"/>
<circle cx="840.2" cy="1437.1" r="14.0" fill="#2ca02c"/>
<circle cx="871.3" cy="1429.3" r="14.0" fill="#2ca02c"/>
<circle cx="898.1" cy="1373.2" r="14.0" fill="#2ca02c"/>
</g>
<g clip-path="url(#c2)">
<circle cx="943.5" cy="1225.9" r="14.25" fill="#2ca02c"/>
<circle cx="943.5" cy="1225.9" r="14.0" fill="#b3b3b3"/>
</g>
<rect x="158.1" y="2.2" width="822.4" height="1794.8" fill="none" stroke="#000" stroke-width="3.4"/>
<line x1="158.1" y1="600.7" x2="980.5" y2="600.7" stroke="#000" stroke-width="3.4"/>
<line x1="158.1" y1="1198.5" x2="980.5" y2="1198.5" stroke="#000" stroke-width="3.4"/>
<text x="176.29" y="51.199999999999996" font-size="45.5" textLength="12.97" lengthAdjust="spacingAndGlyphs" >(</text>
<text x="211.95" y="51.199999999999996" font-size="45.5" textLength="12.97" lengthAdjust="spacingAndGlyphs" >)</text>
<text x="191.18" y="50.3" font-size="40.5">a</text>
<text x="176.29" y="649.1999999999999" font-size="45.5" textLength="12.97" lengthAdjust="spacingAndGlyphs" >(</text>
<text x="213.95" y="649.1999999999999" font-size="45.5" textLength="12.97" lengthAdjust="spacingAndGlyphs" >)</text>
<text x="192.25" y="648.3" font-size="40.5">b</text>
<text x="176.29" y="1247.8000000000002" font-size="45.5" textLength="12.97" lengthAdjust="spacingAndGlyphs" >(</text>
<text x="209.05" y="1247.8000000000002" font-size="45.5" textLength="12.97" lengthAdjust="spacingAndGlyphs" >)</text>
<text x="190.01" y="1246.9" font-size="40.5">c</text>
<text x="84.26" y="417.4" font-size="42.0" textLength="41.42" lengthAdjust="spacingAndGlyphs" >10</text>
<text x="126.89" y="401.15" font-size="29.5" textLength="14.63" lengthAdjust="spacingAndGlyphs" >0</text>
<text x="84.26" y="728.3000000000001" font-size="42.0" textLength="41.42" lengthAdjust="spacingAndGlyphs" >10</text>
<text x="126.65" y="712.0500000000001" font-size="29.5" textLength="13.92" lengthAdjust="spacingAndGlyphs" >1</text>
<text x="84.26" y="890.0500000000001" font-size="42.0" textLength="41.42" lengthAdjust="spacingAndGlyphs" >10</text>
<text x="126.89" y="873.8000000000001" font-size="29.5" textLength="14.63" lengthAdjust="spacingAndGlyphs" >0</text>
<text x="62.04" y="1052.0" font-size="42.0" textLength="41.65" lengthAdjust="spacingAndGlyphs" >10</text>
<rect x="107.2" y="1027.10" width="17.6" height="2.3" fill="#000"/>
<text x="126.65" y="1035.75" font-size="29.5" textLength="13.92" lengthAdjust="spacingAndGlyphs" >1</text>
<text x="84.26" y="1380.9" font-size="42.0" textLength="41.42" lengthAdjust="spacingAndGlyphs" >10</text>
<text x="126.89" y="1364.65" font-size="29.5" textLength="14.63" lengthAdjust="spacingAndGlyphs" >0</text>
<text x="62.04" y="1556.25" font-size="42.0" textLength="41.65" lengthAdjust="spacingAndGlyphs" >10</text>
<rect x="107.2" y="1531.35" width="17.6" height="2.3" fill="#000"/>
<text x="126.65" y="1540.0" font-size="29.5" textLength="13.92" lengthAdjust="spacingAndGlyphs" >1</text>
<text x="62.04" y="1731.6000000000001" font-size="42.0" textLength="41.65" lengthAdjust="spacingAndGlyphs" >10</text>
<rect x="107.2" y="1706.70" width="17.6" height="2.3" fill="#000"/>
<text x="126.65" y="1715.3500000000001" font-size="29.5" textLength="15.34" lengthAdjust="spacingAndGlyphs" >2</text>
<text x="476.75" y="1839.8" font-size="40.5" text-anchor="middle">1</text>
<text x="617.24" y="1839.8" font-size="40.5" text-anchor="middle">2</text>
<text x="757.73" y="1839.8" font-size="40.5" text-anchor="middle">4</text>
<text x="839.91" y="1839.8" font-size="40.5" text-anchor="middle">6</text>
<text x="898.22" y="1839.8" font-size="40.5" text-anchor="middle">8</text>
<text x="922.04" y="1839.8" font-size="40.5" textLength="42.79" lengthAdjust="spacingAndGlyphs" >10</text>
<text x="412.89" y="1893.9" font-size="40.5" textLength="159.15" lengthAdjust="spacingAndGlyphs" >magnetic</text>
<text x="585.54" y="1893.9" font-size="40.5" textLength="74.96" lengthAdjust="spacingAndGlyphs" >field</text>
<text x="676.19" y="1893.9" font-size="40.5" textLength="48.32" lengthAdjust="spacingAndGlyphs" >[T]</text>
<rect x="179.2" y="511.5" width="535.0999999999999" height="68.39999999999998" rx="8" ry="8" fill="#fff" fill-opacity="0.8" stroke="#d6d6d6" stroke-width="4.17"/>
<line x1="191.4" y1="541.8" x2="278.9" y2="541.8" stroke="#0000ff" stroke-width="6.25"/>
<text x="307.11" y="555.7" font-size="40.5" textLength="95.14" lengthAdjust="spacingAndGlyphs" >fitted</text>
<text x="415.85" y="555.7" font-size="40.5" textLength="89.82" lengthAdjust="spacingAndGlyphs" >slope</text>
<text x="516.41" y="555.7" font-size="40.5" textLength="67.82" lengthAdjust="spacingAndGlyphs" >-4.7</text>
<rect x="602.00" y="538.10" width="25.70" height="3.3" fill="#000"/>
<rect x="613.20" y="530.20" width="3.3" height="18.9" fill="#000"/>
<rect x="602.00" y="552.40" width="25.70" height="3.3" fill="#000"/>
<text x="645.09" y="555.7" font-size="40.5" textLength="52.76" lengthAdjust="spacingAndGlyphs" >0.6</text>
<rect x="179.2" y="1052.5" width="535.0999999999999" height="125.79999999999995" rx="8" ry="8" fill="#fff" fill-opacity="0.8" stroke="#d6d6d6" stroke-width="4.17"/>
<line x1="191.4" y1="1083.0" x2="278.9" y2="1083.0" stroke="#0000ff" stroke-width="6.25"/>
<line x1="191.4" y1="1140.2" x2="278.9" y2="1140.2" stroke="#000000" stroke-width="6.25"/>
<text x="307.11" y="1096.9" font-size="40.5" textLength="95.14" lengthAdjust="spacingAndGlyphs" >fitted</text>
<text x="415.85" y="1096.9" font-size="40.5" textLength="89.82" lengthAdjust="spacingAndGlyphs" >slope</text>
<text x="517.15" y="1096.9" font-size="40.5" textLength="53.59" lengthAdjust="spacingAndGlyphs" >3.7</text>
<rect x="588.50" y="1079.30" width="25.80" height="3.3" fill="#000"/>
<rect x="599.75" y="1071.40" width="3.3" height="18.9" fill="#000"/>
<rect x="588.50" y="1093.60" width="25.80" height="3.3" fill="#000"/>
<text x="632.82" y="1096.9" font-size="40.5" textLength="52.01" lengthAdjust="spacingAndGlyphs" >0.3</text>
<text x="307.11" y="1152.9" font-size="40.5" textLength="95.14" lengthAdjust="spacingAndGlyphs" >fitted</text>
<text x="415.85" y="1152.9" font-size="40.5" textLength="89.82" lengthAdjust="spacingAndGlyphs" >slope</text>
<text x="516.46" y="1152.9" font-size="40.5" textLength="65.63" lengthAdjust="spacingAndGlyphs" >-2.1</text>
<rect x="602.00" y="1135.30" width="25.70" height="3.3" fill="#000"/>
<rect x="613.20" y="1127.40" width="3.3" height="18.9" fill="#000"/>
<rect x="602.00" y="1149.60" width="25.70" height="3.3" fill="#000"/>
<text x="645.80" y="1152.9" font-size="40.5" textLength="52.52" lengthAdjust="spacingAndGlyphs" >0.2</text>
<text transform="translate(58.20,0) rotate(-90)" x="-532.23" y="0" font-size="40.5" textLength="407.52" lengthAdjust="spacingAndGlyphs">Auger-Meitner rate [μs</text>
<rect x="32.40" y="103.10" width="2.4" height="18.30" fill="#000"/>
<text transform="translate(42.70,0) rotate(-90)" x="-100.45" y="0" font-size="29.0" textLength="17.33" lengthAdjust="spacingAndGlyphs">1</text>
<text transform="translate(58.20,0) rotate(-90)" x="-81.61" y="0" font-size="40.5" textLength="8.38" lengthAdjust="spacingAndGlyphs">]</text>
<text transform="translate(36.90,0) rotate(-90)" x="-1078.10" y="0" font-size="40.5" textLength="301.98" lengthAdjust="spacingAndGlyphs">spin-flip rate [ms</text>
<rect x="10.30" y="755.70" width="2.4" height="18.20" fill="#000"/>
<text transform="translate(20.80,0) rotate(-90)" x="-752.85" y="0" font-size="29.0" textLength="17.90" lengthAdjust="spacingAndGlyphs">1</text>
<text transform="translate(36.90,0) rotate(-90)" x="-733.51" y="0" font-size="40.5" textLength="8.38" lengthAdjust="spacingAndGlyphs">]</text>
<text transform="translate(36.90,0) rotate(-90)" x="-1742.61" y="0" font-size="40.5" textLength="434.01" lengthAdjust="spacingAndGlyphs">spin-flip-Raman rate [μs</text>
<rect x="10.30" y="1287.80" width="2.4" height="18.00" fill="#000"/>
<text transform="translate(20.80,0) rotate(-90)" x="-1284.95" y="0" font-size="29.0" textLength="17.90" lengthAdjust="spacingAndGlyphs">1</text>
<text transform="translate(36.90,0) rotate(-90)" x="-1265.66" y="0" font-size="40.5" textLength="7.93" lengthAdjust="spacingAndGlyphs">]</text>
</svg></body></html>
